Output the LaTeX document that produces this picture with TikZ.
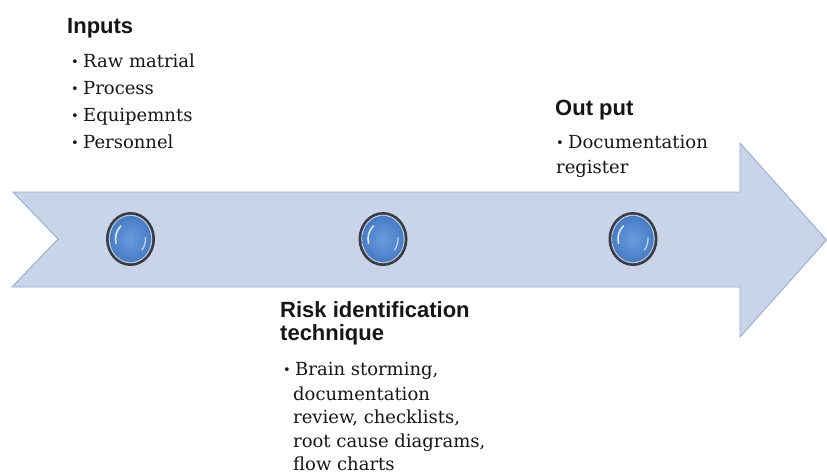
\documentclass[tikz,border=0pt]{standalone}
\usepackage{fontspec}
\usetikzlibrary{shapes.geometric}
\setmainfont{DejaVu Serif}
\newfontfamily\headfont{Liberation Sans}
\newcommand{\dotmark}{\makebox[12pt][l]{\raisebox{0.8pt}{\fontsize{13}{13}\selectfont•}}}
\begin{document}
\definecolor{bandfill}{RGB}{201,212,232}
\definecolor{bandedge}{RGB}{150,172,210}
\definecolor{ringdark}{RGB}{55,60,70}
\definecolor{ringlight}{RGB}{190,200,216}
\definecolor{beadin}{RGB}{104,156,222}
\definecolor{beadout}{RGB}{72,124,198}
\definecolor{ink}{RGB}{22,22,22}
\begin{tikzpicture}[x=1pt,y=-1pt,
  heading/.style={anchor=base west, inner sep=0, text=ink,
    font=\headfont\bfseries\fontsize{22}{24}\selectfont},
  listtext/.style={anchor=base west, inner sep=0, text=ink,
    font=\fontsize{18}{24}\selectfont},
  bead/.style={ellipse, minimum width=49pt, minimum height=54pt, inner sep=0,
    fill=ringdark,
    path picture={
      \coordinate (bc) at (path picture bounding box.center);
      \fill[ringlight] (bc) ellipse [x radius=21.8pt, y radius=24.3pt];
      \shade[inner color=beadin, outer color=beadout]
        (bc) ellipse [x radius=20.6pt, y radius=23.1pt];
      \draw[white, line width=1.6pt, opacity=.8, line cap=round]
        (bc) ++(130:15pt and 17pt) arc [start angle=130, end angle=195,
          x radius=15pt, y radius=17pt];
      \draw[white, line width=1.3pt, opacity=.65, line cap=round]
        (bc) ++(-40:15pt and 17pt) arc [start angle=-40, end angle=5,
          x radius=15pt, y radius=17pt];
    }}]
\useasboundingbox (0,0) rectangle (827,474);
\fill[white] (0,0) rectangle (827,474);

% the timeline arrow
\filldraw[fill=bandfill, draw=bandedge, line width=0.9pt, line join=miter]
  (13,192) -- (740,192) -- (740,143) -- (826.5,240) -- (740,337)
  -- (740,287) -- (12,287) -- (58,239) -- cycle;

% stages on the timeline
\node[bead] (s1) at (130.5,239) {};
\node[bead] (s2) at (383,239) {};
\node[bead] (s3) at (633,239) {};

% inputs
\node[heading] (inh) at (67,33) {Inputs};
\foreach \k/\y/\t in {1/67/{Raw matrial}, 2/94/{Process},
                      3/121/{Equipemnts}, 4/148/{Personnel}}
  \node[listtext] (in\k) at (71,\y) {\dotmark\t};

% output
\node[heading] (outh) at (555,115) {Out put};
\node[listtext] (out1) at (556,148) {\dotmark Documentation};
\node[listtext] (out2) at (556,173) {register};

% risk identification
\node[heading] (rk1) at (280,317) {Risk identification};
\node[heading] (rk2) at (280,340) {technique};
\node[listtext] (rl1) at (283,375) {\dotmark Brain storming,};
\foreach \k/\y/\t in {2/400/{documentation}, 3/423/{review, checklists,},
                      4/447/{root cause diagrams,}, 5/470/{flow charts}}
  \node[listtext] (rl\k) at (293,\y) {\t};
\end{tikzpicture}
\end{document}
